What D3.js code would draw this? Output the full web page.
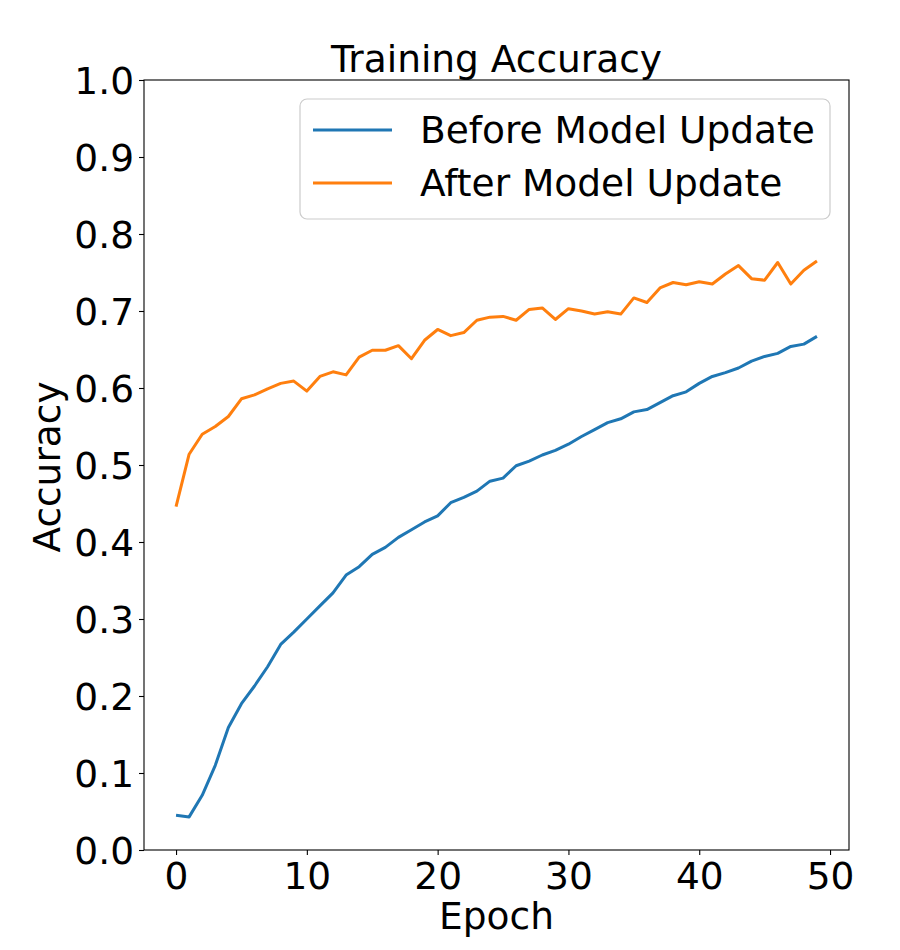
<!DOCTYPE html>
<html>
<head>
<meta charset="utf-8">
<script src="https://cdn.jsdelivr.net/npm/d3@7"></script>
<style>
  body { margin: 0; background: #fff; }
  svg text { font-family: "DejaVu Sans", sans-serif; fill: #000; }
</style>
</head>
<body>
<svg id="chart" width="900" height="950"></svg>
<script>
/* values */
const epochs = d3.range(0, 50)

const before = [
  0.045, 0.043, 0.071, 0.110, 0.159, 0.190, 0.213, 0.238, 0.267, 0.283,
  0.300, 0.317, 0.334, 0.357, 0.368, 0.384, 0.393, 0.406, 0.416, 0.426,
  0.434, 0.451, 0.458, 0.466, 0.479, 0.483, 0.499, 0.505, 0.513, 0.519,
  0.527, 0.537, 0.546, 0.555, 0.560, 0.569, 0.572, 0.581, 0.590, 0.595,
  0.606, 0.615, 0.620, 0.626, 0.635, 0.641, 0.645, 0.654, 0.657, 0.667
]

const after = [
  0.446, 0.514, 0.540, 0.550, 0.563, 0.586, 0.591, 0.599, 0.606, 0.609,
  0.596, 0.615, 0.621, 0.617, 0.640, 0.649, 0.649, 0.655, 0.638, 0.662,
  0.676, 0.668, 0.672, 0.688, 0.692, 0.693, 0.688, 0.702, 0.704, 0.689,
  0.703, 0.700, 0.696, 0.699, 0.696, 0.717, 0.711, 0.730, 0.737, 0.734,
  0.738, 0.735, 0.748, 0.759, 0.742, 0.740, 0.763, 0.735, 0.753, 0.765
]

const seriesNames = ["Before Model Update", "After Model Update"]
const seriesColors = ["#1f77b4", "#ff7f0e"]
const xTicks = [0, 10, 20, 30, 40, 50]
const yTicks = d3.range(0, 11).map(d => d / 10)

const margin = {top: 80, right: 51, bottom: 100, left: 144}
const width = 900 - margin.left - margin.right
const height = 950 - margin.top - margin.bottom
const fs = 37.5

const svg = d3.select("#chart")
const g = svg.append("g").attr("transform", "translate(" + margin.left + "," + margin.top + ")")

const pad = (epochs.length - 1) * 0.05
const x = d3.scaleLinear().domain([-pad, epochs.length - 1 + pad]).range([0, width])
const y = d3.scaleLinear().domain([0, 1]).range([height, 0])

// lines
const line = d3.line().x((d, i) => x(epochs[i])).y(d => y(d))
;[before, after].forEach((s, k) => {
  g.append("path")
    .datum(s)
    .attr("fill", "none")
    .attr("stroke", seriesColors[k])
    .attr("stroke-width", 3)
    .attr("stroke-linejoin", "round")
    .attr("d", line)
})

// axes
const xAxis = g.append("g")
  .attr("transform", "translate(0," + height + ")")
  .call(d3.axisBottom(x).tickValues(xTicks).tickSize(5).tickPadding(5).tickFormat(d3.format("d")))
const yAxis = g.append("g")
  .call(d3.axisLeft(y).tickValues(yTicks).tickSize(5).tickPadding(5).tickFormat(d3.format(".1f")))

;[xAxis, yAxis].forEach(a => {
  a.select(".domain").remove()
  a.selectAll("line").attr("stroke", "#000").attr("stroke-width", 1.1)
  a.selectAll("text").attr("font-size", fs).attr("font-family", "DejaVu Sans")
})
xAxis.selectAll("text").attr("dy", "0.76em")
yAxis.selectAll("text").attr("dy", "0.35em")

// frame
g.append("rect")
  .attr("width", width).attr("height", height)
  .attr("fill", "none").attr("stroke", "#000").attr("stroke-width", 1.1)

// title and labels
g.append("text")
  .attr("x", width / 2).attr("y", -8)
  .attr("text-anchor", "middle").attr("font-size", fs)
  .text("Training Accuracy")

g.append("text")
  .attr("x", width / 2).attr("y", height + 79)
  .attr("text-anchor", "middle").attr("font-size", fs)
  .text("Epoch")

g.append("text")
  .attr("transform", "translate(" + (-84) + "," + (height / 2 + 2) + ") rotate(-90)")
  .attr("text-anchor", "middle").attr("font-size", fs)
  .text("Accuracy")

// legend
const lgW = 530, lgH = 120
const lg = g.append("g").attr("transform", "translate(" + (width - 19 - lgW) + ",19)")
lg.append("rect")
  .attr("width", lgW).attr("height", lgH).attr("rx", 7)
  .attr("fill", "#fff").attr("fill-opacity", 0.8)
  .attr("stroke", "#cccccc").attr("stroke-width", 1.2)

seriesNames.forEach((name, k) => {
  const row = lg.append("g").attr("transform", "translate(0," + (31 + k * 53) + ")")
  row.append("line")
    .attr("x1", 13).attr("x2", 92)
    .attr("stroke", seriesColors[k]).attr("stroke-width", 3)
  row.append("text")
    .attr("x", 120).attr("dy", "0.35em")
    .attr("font-size", fs)
    .text(name)
})
</script>
</body>
</html>
